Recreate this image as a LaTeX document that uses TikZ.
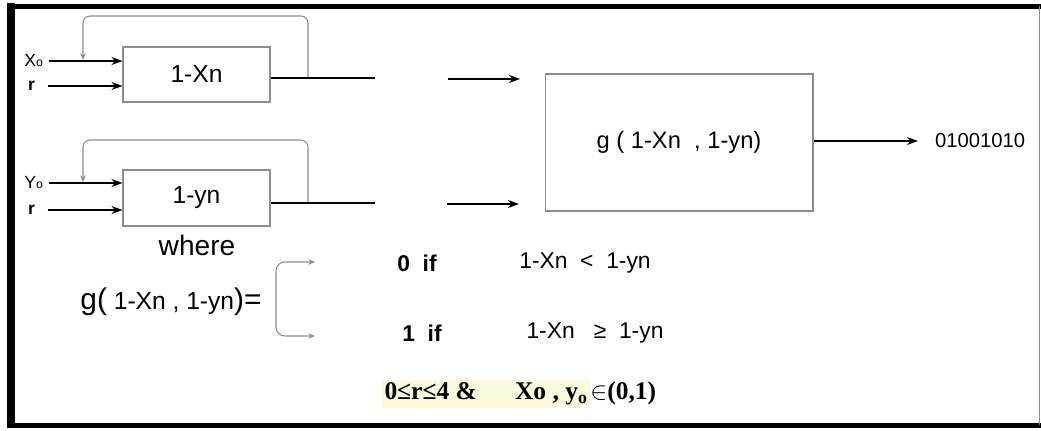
\documentclass[tikz,border=0pt]{standalone}
\usepackage{fontspec}
\setmainfont{Liberation Sans}
\newfontfamily\serifa{Liberation Serif}
\usetikzlibrary{arrows.meta,positioning,calc}
\definecolor{MapaCinza}{RGB}{140,140,140}
\definecolor{MapaRealce}{RGB}{252,251,222}
\tikzset{
  bloco/.style={draw=MapaCinza, line width=0.6pt, minimum width=2.94cm,
                align=center, font=\fontsize{14}{16}\selectfont},
  seta/.style={-{Stealth[length=2.2mm,width=1.6mm]}, line width=0.9pt},
  linha/.style={line width=0.9pt},
  laco/.style={-{Stealth[length=1.3mm,width=1.1mm]}, MapaCinza, line width=0.6pt,
                rounded corners=4pt},
  chave/.style={{Stealth[length=1.3mm,width=1.1mm]}-{Stealth[length=1.3mm,width=1.1mm]},
                MapaCinza, line width=0.6pt, rounded corners=5pt},
  rotulo/.style={font=\fontsize{10}{12}\selectfont, inner sep=1pt},
  caso/.style={font=\fontsize{13}{15}\selectfont\bfseries},
  cond/.style={font=\fontsize{13}{15}\selectfont},
  moldura/.style={line width=3pt},
}

\begin{document}
\begin{tikzpicture}[x=0.02cm, y=-0.02cm]
  \useasboundingbox (0,0) rectangle (1041,431);

  % Moldura
  \draw[moldura, line width=4.5pt] (11,3) -- (11,428);
  \draw[moldura] (7,6.5) -- (1041,6.5);
  \draw[moldura] (7,425.5) -- (1041,425.5);
  \draw[MapaCinza, line width=0.6pt] (1039.5,6.5) -- (1039.5,425.5);

  % Blocos
  \node[bloco, minimum height=1.1cm] (blocoX) at (196.5,74.5) {1-Xn};
  \node[bloco, minimum height=1.12cm] (blocoY) at (196.5,198) {1-yn};
  \node[bloco, minimum width=5.36cm, minimum height=2.74cm,
        font=\fontsize{13.5}{15}\selectfont] (blocoG) at (679,142.5)
    {g\ (\ 1-Xn\ \ ,\ 1-yn)};

  % Entradas
  \node[rotulo, anchor=east] (entX) at (45,61) {X{\scriptsize o}};
  \node[rotulo, anchor=east] (entRX) at (37,86) {\bfseries r};
  \node[rotulo, anchor=east] (entY) at (45,183) {Y{\scriptsize o}};
  \node[rotulo, anchor=east] (entRY) at (37,210) {\bfseries r};
  \draw[seta, shorten <=2pt] (entX.east) -- (entX.east -| blocoX.west);
  \draw[seta, shorten <=6pt] (entRX.east) -- (entRX.east -| blocoX.west);
  \draw[seta, shorten <=2pt] (entY.east) -- (entY.east -| blocoY.west);
  \draw[seta, shorten <=6pt] (entRY.east) -- (entRY.east -| blocoY.west);

  % Realimentacao
  \coordinate (ramoX) at (308,78);
  \coordinate (voltaX) at (83,60);
  \coordinate (ramoY) at (308,203);
  \coordinate (voltaY) at (83,182);
  \draw[laco] (ramoX) -- ++(0,-62) -| (voltaX);
  \draw[laco] (ramoY) -- ++(0,-63) -| (voltaY);

  % Saidas dos blocos
  \coordinate (fimX) at (375,78);
  \coordinate (fimY) at (375,203);
  \draw[linha] (fimX -| blocoX.east) -- (fimX);
  \draw[linha] (fimY -| blocoY.east) -- (fimY);
  \coordinate (iniGX) at (448,79);
  \coordinate (fimGX) at (520,79);
  \coordinate (iniGY) at (447,204);
  \coordinate (fimGY) at (519,204);
  \draw[seta] (iniGX) -- (fimGX);
  \draw[seta] (iniGY) -- (fimGY);

  % Saida final
  \coordinate (fimG) at (918,141);
  \draw[seta] (blocoG.east |- fimG) -- (fimG);
  \node[right=2.2mm of fimG, anchor=west, font=\fontsize{11.5}{13}\selectfont] (saida) {01001010};

  % Definicao de g
  \node[font=\fontsize{16}{18}\selectfont] (onde) at (197,245) {where};
  \node (defG) at (171,302)
    {\fontsize{17}{19}\selectfont g(\fontsize{14}{16}\selectfont\ 1-Xn\ ,\ 1-yn\fontsize{17}{19}\selectfont)=};
  \coordinate (chaveA) at (315,262);
  \coordinate (chaveB) at (315,336);
  \draw[chave] (chaveA) -- ++(-39,0) -- ++(0,74) -- (chaveB);
  \node[caso] (caso0) at (417,263) {0\ \ if};
  \node[caso] (caso1) at (422,333) {1\ \ if};
  \node[cond] (cond0) at (585,263) {1-Xn\ \ <\ \ 1-yn};
  \node[cond] (cond1) at (595,333) {1-Xn\ \ \ ≥\ \ 1-yn};

  % Restricoes
  \node[font=\serifa\fontsize{14.5}{16}\selectfont\bfseries] (restr) at (519,394)
    {\setlength{\fboxsep}{1.5pt}\colorbox{MapaRealce}{0≤r≤4 \&\quad\ \ Xo , y\textsubscript{o}}$\in$(0,1)};
\end{tikzpicture}
\end{document}
